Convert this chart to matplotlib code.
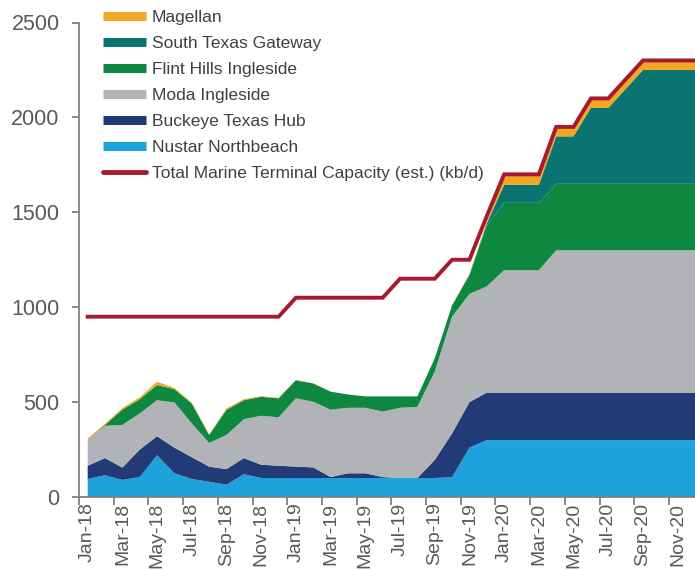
import numpy as np
import matplotlib
matplotlib.use('Agg')
import matplotlib.pyplot as plt
from matplotlib.lines import Line2D

plt.rcParams['font.family'] = ['Liberation Sans', 'DejaVu Sans']

months = ['Jan-18', 'Feb-18', 'Mar-18', 'Apr-18', 'May-18', 'Jun-18',
          'Jul-18', 'Aug-18', 'Sep-18', 'Oct-18', 'Nov-18', 'Dec-18',
          'Jan-19', 'Feb-19', 'Mar-19', 'Apr-19', 'May-19', 'Jun-19',
          'Jul-19', 'Aug-19', 'Sep-19', 'Oct-19', 'Nov-19', 'Dec-19',
          'Jan-20', 'Feb-20', 'Mar-20', 'Apr-20', 'May-20', 'Jun-20',
          'Jul-20', 'Aug-20', 'Sep-20', 'Oct-20', 'Nov-20', 'Dec-20']

# kb/d per terminal, stacked bottom to top
nustar = [95, 115, 90, 105, 220, 125, 95, 80, 65, 120, 100, 100,
          100, 100, 100, 100, 100, 100, 100, 100, 100, 105, 260, 300,
          300, 300, 300, 300, 300, 300, 300, 300, 300, 300, 300, 300]
buckeye = [70, 90, 65, 145, 100, 135, 115, 80, 82, 85, 70, 65,
           60, 56, 5, 25, 25, 5, 0, 0, 95, 230, 240, 250,
           250, 250, 250, 250, 250, 250, 250, 250, 250, 250, 250, 250]
moda = [135, 170, 225, 190, 190, 238, 178, 125, 180, 205, 258, 255,
        360, 346, 355, 345, 345, 345, 370, 375, 465, 615, 570, 560,
        645, 645, 645, 750, 750, 750, 750, 750, 750, 750, 750, 750]
flint_hills = [0, 5, 80, 75, 80, 70, 105, 42, 132, 100, 100, 100,
               95, 96, 95, 70, 60, 80, 60, 55, 70, 60, 100, 320,
               355, 355, 355, 350, 350, 350, 350, 350, 350, 350, 350, 350]
south_texas = [0, 0, 0, 0, 0, 0, 0, 0, 0, 0, 0, 0,
               0, 0, 0, 0, 0, 0, 0, 0, 0, 0, 0, 10,
               95, 95, 95, 250, 250, 400, 400, 500, 600, 600, 600, 600]
magellan = [8, 6, 9, 10, 18, 6, 4, 3, 8, 6, 3, 2,
            2, 1, 0, 0, 0, 0, 0, 0, 0, 0, 5, 10,
            50, 50, 50, 50, 50, 50, 50, 50, 50, 50, 50, 50]
capacity = [950] * 12 + [1050] * 6 + [1150] * 3 + [1250] * 2 + [1480] \
    + [1700] * 3 + [1950] * 2 + [2100] * 2 + [2200] + [2300] * 4

names = ['Nustar Northbeach', 'Buckeye Texas Hub', 'Moda Ingleside',
         'Flint Hills Ingleside', 'South Texas Gateway', 'Magellan']
colors = ['#1ea2dc', '#223a75', '#b1b3b6', '#0e8740', '#0a7570', '#f0a825']
line_color = '#a6192e'
text_color = '#595959'

x = np.arange(len(months))

fig = plt.figure(figsize=(6.95, 5.71), dpi=100)
ax = fig.add_axes([79 / 695, 74 / 571, 616 / 695, 474.5 / 571])

ax.stackplot(x, nustar, buckeye, moda, flint_hills, south_texas, magellan,
             colors=colors, linewidth=0)
ax.plot(x, capacity, color=line_color, lw=2.8, solid_joinstyle='miter')

ax.set_yticks(np.arange(0, 2501, 500))
# ticks sit between categories, labels on every second month
ax.set_xticks(np.arange(-0.5, 35, 2))
ax.set_xticks(x[::2], minor=True)
ax.set_xticklabels([])
ax.set_xticklabels(months[::2], minor=True, rotation=90)
# set limits after the ticks, set_xticks widens the view otherwise
ax.set_xlim(-0.5, 35)
ax.set_ylim(0, 2500)
ax.tick_params(axis='x', which='minor', length=0, pad=4, labelsize=14,
               labelcolor=text_color)
ax.tick_params(axis='x', which='major', length=6, width=1.3, color='#808080')
ax.tick_params(axis='y', length=5, width=1.3, color='#808080', pad=9,
               labelsize=15.5, labelcolor=text_color)

for side in ['top', 'right']:
    ax.spines[side].set_visible(False)
for side in ['left', 'bottom']:
    ax.spines[side].set_color('#808080')
    ax.spines[side].set_linewidth(1.3)

# legend: Excel-style thick line handles
handles = [Line2D([], [], color=c, lw=6.5, solid_capstyle='butt')
           for c in colors[::-1]]
handles.append(Line2D([], [], color=line_color, lw=3.5,
                      solid_capstyle='round'))
labels = names[::-1] + ['Total Marine Terminal Capacity (est.) (kb/d)']
fig.legend(handles, labels, loc='upper left',
           bbox_to_anchor=(103 / 695, 1 - 10 / 571), frameon=False,
           fontsize=12.5, labelcolor='#404040', handlelength=2.5,
           handletextpad=0.3, labelspacing=0.62, borderpad=0,
           borderaxespad=0)

fig.savefig('out.png', dpi=100)
